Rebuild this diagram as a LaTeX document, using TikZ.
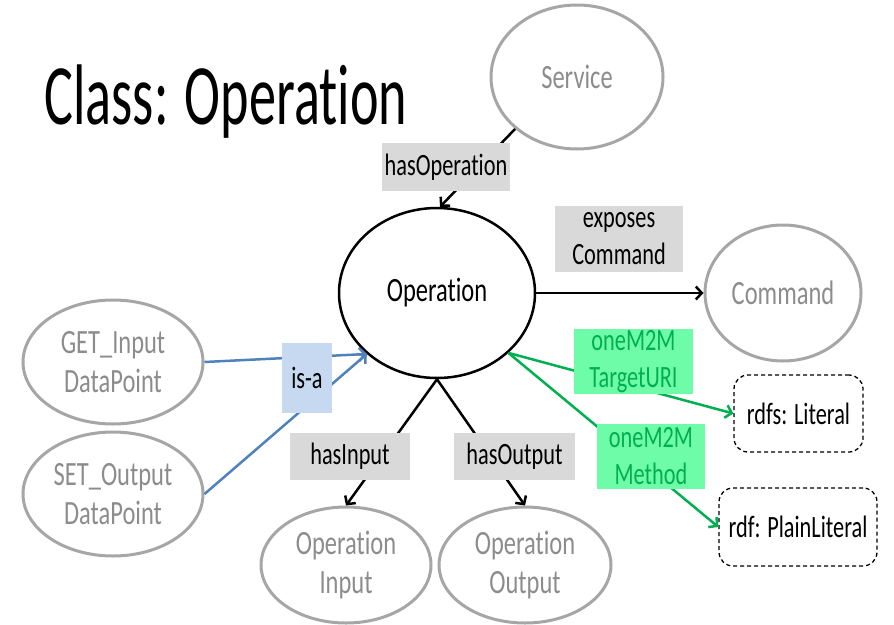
\documentclass[tikz,border=0pt]{standalone}
\usepackage{fontspec}
\setmainfont[FakeStretch=0.72,Ligatures=NoCommon]{Carlito}
\newfontfamily\titlefont[FakeStretch=0.63,Ligatures=NoCommon]{Carlito}
\usetikzlibrary{arrows.meta,shapes.geometric}

\definecolor{ringgray}{HTML}{A6A6A6}
\definecolor{textgray}{HTML}{8C8C8C}
\definecolor{labelgray}{HTML}{D9D9D9}
\definecolor{isablue}{HTML}{C6D9F1}
\definecolor{linkblue}{HTML}{4F81BD}
\definecolor{mmfill}{RGB}{110,252,168}
\definecolor{mmgreen}{HTML}{00B050}

\begin{document}
\begin{tikzpicture}[x=1pt,y=-1pt,
class/.style={ellipse,draw=ringgray,line width=3pt,text=textgray,align=center,inner sep=0pt,font=\fontsize{34}{39}\selectfont},
main/.style={ellipse,draw,line width=2.5pt,inner sep=0pt,font=\fontsize{34}{39}\selectfont},
literal/.style={draw,dash pattern=on 4pt off 3pt,rounded corners=14pt,line width=1.3pt,inner sep=0pt,font=\fontsize{31}{37}\selectfont},
tag/.style={fill=labelgray,align=center,inner sep=0pt,font=\fontsize{31}{37}\selectfont},
link/.style={line width=2.5pt,-{Straight Barb[length=6pt,width=13pt]}},
]
\useasboundingbox (0,0) rectangle (894,624);

% Title
\node[anchor=base west,font=\titlefont\fontsize{86}{96}\selectfont] (title) at (41,124) {Class: Operation};

% Classes
\node[main,minimum width=196,minimum height=170] (op) at (437,293) {Operation};
\node[class,minimum width=172,minimum height=144] (svc) at (577,77) {Service};
\node[class,minimum width=156,minimum height=136] (cmd) at (783,293) {Command};
\node[class,minimum width=180,minimum height=124] (get) at (113,362) {GET\_Input\\DataPoint};
\node[class,minimum width=180,minimum height=124] (set) at (113,494) {SET\_Output\\DataPoint};
\node[class,minimum width=170,minimum height=116] (opin) at (346,565) {Operation\\Input};
\node[class,minimum width=172,minimum height=116] (opout) at (525,565) {Operation\\Output};

% Literals
\node[literal,minimum width=129,minimum height=77] (lit) at (798.5,413.5) {rdfs: Literal};
\node[literal,minimum width=158,minimum height=78] (plain) at (798,527) {rdf: PlainLiteral};

% Properties
\draw[link] (svc.220) -- (op.88);
\draw[link] (op.east) -- (cmd.west);
\draw[link] (op.south) -- (opin.north);
\draw[link] (op.south) -- (opout.north);
\draw[link,linkblue] (get.east) -- (op.221);
\draw[link,linkblue] (set.east) -- (op.221);
\draw[link,mmgreen] (op.320) -- (lit.west);
\draw[link,mmgreen] (op.320) -- (plain.west);

% Property labels
\node[tag,minimum width=128,minimum height=48] (hasop) at (446,167) {hasOperation};
\node[tag,minimum width=128,minimum height=66] (expcmd) at (619,239) {exposes\\Command};
\node[tag,fill=isablue,minimum width=50,minimum height=70] (isa) at (307,378) {is-a};
\node[tag,minimum width=120,minimum height=47] (hasin) at (350,456.5) {hasInput};
\node[tag,minimum width=121,minimum height=47] (hasout) at (514.5,456.5) {hasOutput};
\node[tag,fill=mmfill,text=mmgreen,minimum width=119,minimum height=65] (uri) at (633.5,361.5) {oneM2M\\TargetURI};
\node[tag,fill=mmfill,text=mmgreen,minimum width=108,minimum height=65] (meth) at (651,456.5) {oneM2M\\Method};

\end{tikzpicture}
\end{document}
